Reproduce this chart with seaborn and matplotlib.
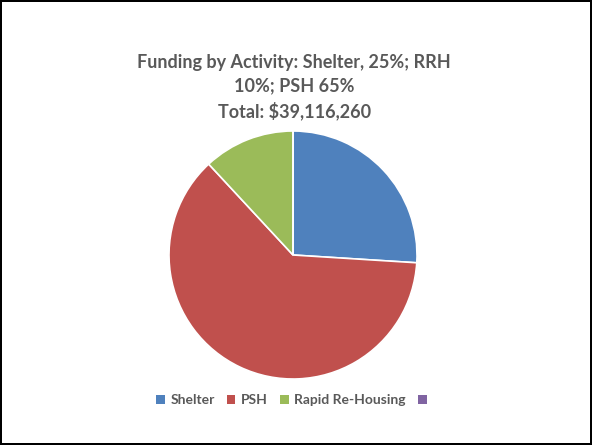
import matplotlib
matplotlib.use("Agg")
import matplotlib.pyplot as plt
import seaborn as sns
from matplotlib.patches import Patch

categories = ["Shelter", "PSH", "Rapid Re-Housing", ""]
shares = [26.0, 62.1, 11.9, 0.0]
colors = ["#4F81BD", "#C0504D", "#9BBB59", "#8064A2"]
title = "Funding by Activity: Shelter, 25%; RRH\n10%; PSH 65%\nTotal: $39,116,260"

sns.set_theme(style="white")
plt.rcParams["font.family"] = ["Lato", "DejaVu Sans"]

fig = plt.figure(figsize=(5.92, 4.45), dpi=100)
fig.patch.set_edgecolor("black")
fig.patch.set_linewidth(1.5)

# pie axes: center ~ (293,255) px, radius ~124 px
ax = fig.add_axes([(293 - 124) / 592, (445 - 255 - 124) / 445, 248 / 592, 248 / 445])
ax.pie(shares, colors=colors, startangle=90, counterclock=False,
       wedgeprops=dict(edgecolor="white", linewidth=1.2))
ax.set_xlim(-1, 1)
ax.set_ylim(-1, 1)
ax.set_aspect("equal")

fig.text(0.497, 0.805, title, ha="center", va="center", fontsize=13,
         fontweight="bold", color="#595959", linespacing=1.45)

handles = [Patch(facecolor=c, edgecolor="none") for c in colors]
fig.legend(handles, categories, loc="center", bbox_to_anchor=(0.497, 0.101),
           ncol=4, frameon=False, handlelength=0.6, handleheight=0.6,
           handletextpad=0.4, columnspacing=0.9,
           prop=dict(size=10, weight="bold"), labelcolor="#595959")

fig.savefig("out.png", dpi=100)
